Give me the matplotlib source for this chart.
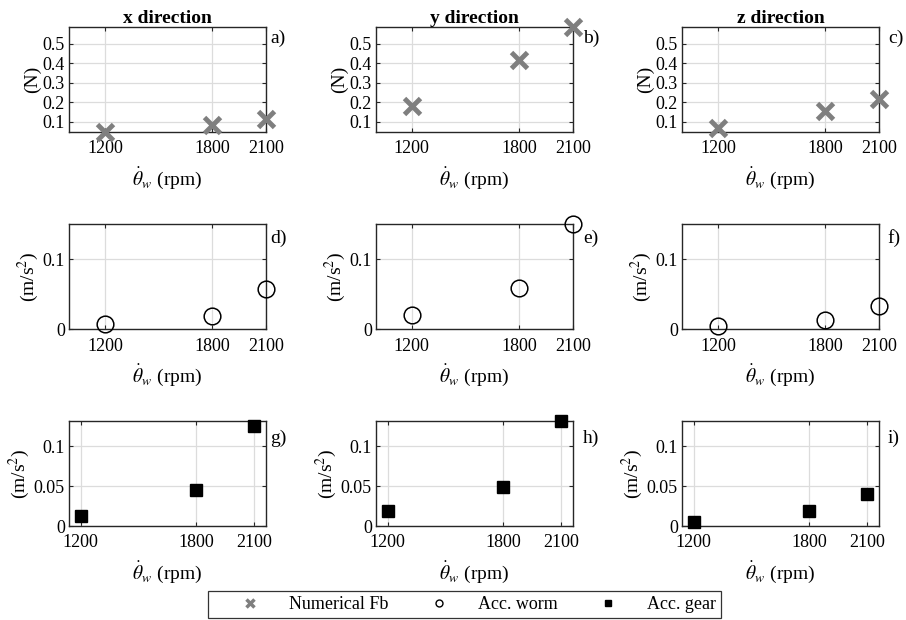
import numpy as np
import matplotlib.pyplot as plt
from matplotlib.lines import Line2D

plt.rcParams['font.family'] = ['Liberation Serif', 'DejaVu Serif']
plt.rcParams['mathtext.fontset'] = 'stix'

# data
rpm = [1200, 1800, 2100]
directions = ['x direction', 'y direction', 'z direction']
force_fb = [[0.047, 0.083, 0.112],
            [0.180, 0.415, 0.583],
            [0.070, 0.155, 0.214]]
acc_worm = [[0.007, 0.019, 0.057],
            [0.020, 0.059, 0.150],
            [0.004, 0.013, 0.033]]
acc_gear = [[0.012, 0.045, 0.125],
            [0.019, 0.049, 0.131],
            [0.005, 0.019, 0.040]]
panel_labels = ['a)', 'b)', 'c)', 'd)', 'e)', 'f)', 'g)', 'h)', 'i)']

fig = plt.figure(figsize=(9.06, 6.2), dpi=100)

lefts = [0.0762, 0.415, 0.7528]
bottoms = [0.787, 0.469, 0.1516]
w, h = 0.2174, 0.169
label_x = [1.02, 1.05, 1.045]

rows = [
    dict(data=force_fb, ylabel='(N)', ylim=(0.047, 0.583), yticks=[0.1, 0.2, 0.3, 0.4, 0.5],
         yticklabels=['0.1', '0.2', '0.3', '0.4', '0.5'], xlim=(1000, 2100), label_y=0.89,
         style=dict(marker='x', color='#7f7f7f', markersize=11, markeredgewidth=3.5, linestyle='none')),
    dict(data=acc_worm, ylabel='(m/s$^2$)', ylim=(0, 0.15), yticks=[0, 0.1],
         yticklabels=['0', '0.1'], xlim=(1000, 2100), label_y=0.87,
         style=dict(marker='o', markerfacecolor='none', markeredgecolor='black', markersize=12,
                    markeredgewidth=1.1, linestyle='none')),
    dict(data=acc_gear, ylabel='(m/s$^2$)', ylim=(0, 0.131), yticks=[0, 0.05, 0.1],
         yticklabels=['0', '0.05', '0.1'], xlim=(1140, 2160), label_y=0.84,
         style=dict(marker='s', color='black', markersize=8, linestyle='none')),
]

k = 0
for r, row in enumerate(rows):
    for c in range(3):
        ax = fig.add_axes([lefts[c], bottoms[r], w, h])
        ax.plot(rpm, row['data'][c], clip_on=False, zorder=5, **row['style'])
        ax.set_xlim(*row['xlim'])
        ax.set_ylim(*row['ylim'])
        ax.set_xticks(rpm)
        ax.set_yticks(row['yticks'])
        ax.set_yticklabels(row['yticklabels'])
        ax.grid(True, color='#dcdcdc', linewidth=0.9)
        ax.set_axisbelow(True)
        for s in ax.spines.values():
            s.set_color('#262626')
            s.set_linewidth(1.0)
        ax.tick_params(direction='in', length=3, width=0.8, color='#262626',
                       labelsize=13, top=True, right=True)
        ax.tick_params(axis='x', pad=6)
        ax.tick_params(axis='y', pad=3)
        ax.set_ylabel(row['ylabel'], fontsize=14, labelpad=1)
        ax.set_xlabel(r'$\dot{\theta}_w$ (rpm)', fontsize=14, labelpad=6)
        ax.text(label_x[c], row['label_y'], panel_labels[k], transform=ax.transAxes, fontsize=14,
                ha='left', va='center')
        if r == 0:
            ax.set_title(directions[c], fontsize=14, fontweight='bold', pad=3)
        k += 1

handles = [
    Line2D([], [], marker='x', color='#7f7f7f', markersize=6, markeredgewidth=2.5, linestyle='none'),
    Line2D([], [], marker='o', markerfacecolor='none', markeredgecolor='black', markersize=5,
           markeredgewidth=1, linestyle='none'),
    Line2D([], [], marker='s', color='black', markersize=5, linestyle='none'),
]
leg = fig.legend(handles, ['Numerical Fb', 'Acc. worm', 'Acc. gear'], ncol=3,
                 loc='center', bbox_to_anchor=(0.5127, 0.025), fontsize=13,
                 frameon=True, fancybox=False, edgecolor='black', handletextpad=0.13,
                 columnspacing=0.74, handlelength=4.07, borderpad=0.3, borderaxespad=0)
leg.get_frame().set_linewidth(0.9)

fig.savefig('out.png', dpi=100)
